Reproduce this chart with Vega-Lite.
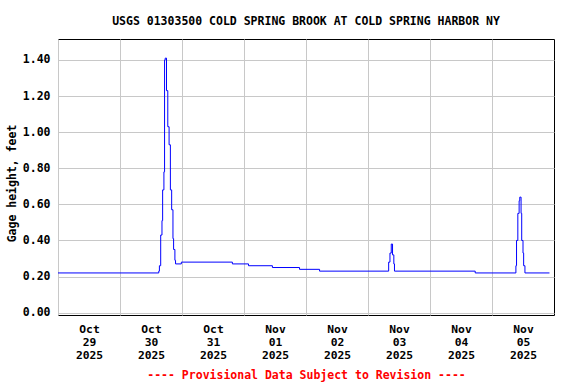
{
  "$schema": "https://vega.github.io/schema/vega-lite/v6.json",
  "width": 496,
  "height": 276,
  "autosize": {"type": "none"},
  "padding": {"left": 58, "top": 39, "right": 22, "bottom": 69},
  "background": "white",
  "title": {
    "text": "USGS 01303500 COLD SPRING BROOK AT COLD SPRING HARBOR NY",
    "font": "DejaVu Sans Mono",
    "fontSize": 11.5,
    "fontWeight": "bold",
    "color": "black",
    "anchor": "middle",
    "frame": "group",
    "offset": 12
  },
  "config": {"view": {"stroke": "black", "strokeWidth": 1}},
  "data": {
    "values": [
      {"t": "2025-10-29T00:00", "v": 0.22},
      {"t": "2025-10-30T15:00", "v": 0.23},
      {"t": "2025-10-30T15:15", "v": 0.26},
      {"t": "2025-10-30T15:45", "v": 0.43},
      {"t": "2025-10-30T16:15", "v": 0.51},
      {"t": "2025-10-30T16:30", "v": 0.68},
      {"t": "2025-10-30T17:00", "v": 0.78},
      {"t": "2025-10-30T17:15", "v": 1.40},
      {"t": "2025-10-30T17:30", "v": 1.41},
      {"t": "2025-10-30T18:00", "v": 1.23},
      {"t": "2025-10-30T18:30", "v": 1.03},
      {"t": "2025-10-30T19:00", "v": 0.93},
      {"t": "2025-10-30T19:30", "v": 0.68},
      {"t": "2025-10-30T20:00", "v": 0.57},
      {"t": "2025-10-30T20:30", "v": 0.41},
      {"t": "2025-10-30T20:45", "v": 0.35},
      {"t": "2025-10-30T21:15", "v": 0.29},
      {"t": "2025-10-30T21:30", "v": 0.27},
      {"t": "2025-10-30T23:45", "v": 0.28},
      {"t": "2025-10-31T19:30", "v": 0.27},
      {"t": "2025-11-01T01:45", "v": 0.26},
      {"t": "2025-11-01T11:00", "v": 0.25},
      {"t": "2025-11-01T21:30", "v": 0.24},
      {"t": "2025-11-02T05:15", "v": 0.23},
      {"t": "2025-11-03T08:00", "v": 0.28},
      {"t": "2025-11-03T08:30", "v": 0.33},
      {"t": "2025-11-03T09:00", "v": 0.38},
      {"t": "2025-11-03T09:30", "v": 0.32},
      {"t": "2025-11-03T10:00", "v": 0.27},
      {"t": "2025-11-03T10:15", "v": 0.23},
      {"t": "2025-11-04T17:30", "v": 0.22},
      {"t": "2025-11-05T09:15", "v": 0.26},
      {"t": "2025-11-05T09:30", "v": 0.40},
      {"t": "2025-11-05T10:00", "v": 0.55},
      {"t": "2025-11-05T10:30", "v": 0.62},
      {"t": "2025-11-05T10:45", "v": 0.64},
      {"t": "2025-11-05T11:15", "v": 0.55},
      {"t": "2025-11-05T11:30", "v": 0.40},
      {"t": "2025-11-05T12:00", "v": 0.33},
      {"t": "2025-11-05T12:15", "v": 0.26},
      {"t": "2025-11-05T12:45", "v": 0.22},
      {"t": "2025-11-05T22:15", "v": 0.22}
    ]
  },
  "mark": {"type": "line", "interpolate": "step-after", "color": "#0000ff", "strokeWidth": 1},
  "encoding": {
    "x": {
      "field": "t",
      "type": "temporal",
      "scale": {"domain": [{"year": 2025, "month": 10, "date": 29}, {"year": 2025, "month": 11, "date": 6}]},
      "axis": {
        "values": [
          {"year": 2025, "month": 10, "date": 29},
          {"year": 2025, "month": 10, "date": 30},
          {"year": 2025, "month": 10, "date": 31},
          {"year": 2025, "month": 11, "date": 1},
          {"year": 2025, "month": 11, "date": 2},
          {"year": 2025, "month": 11, "date": 3},
          {"year": 2025, "month": 11, "date": 4},
          {"year": 2025, "month": 11, "date": 5}
        ],
        "grid": true,
        "gridColor": "#c8c8c8",
        "gridOpacity": 1,
        "ticks": false,
        "domain": false,
        "labelExpr": "[timeFormat(datum.value, '%b'), timeFormat(datum.value, '%d'), timeFormat(datum.value, '%Y')]",
        "labelOffset": 31,
        "labelFont": "DejaVu Sans Mono",
        "labelFontWeight": "bold",
        "labelFontSize": 11.3,
        "labelColor": "black",
        "labelPadding": 8,
        "labelLineHeight": 13,
        "labelFlush": false,
        "labelOverlap": false,
        "labelBound": false,
        "title": "---- Provisional Data Subject to Revision ----",
        "titleColor": "#ff0000",
        "titleFont": "DejaVu Sans Mono",
        "titleFontSize": 11.5,
        "titleFontWeight": "bold",
        "titleY": 60,
        "titleBaseline": "middle"
      }
    },
    "y": {
      "field": "v",
      "type": "quantitative",
      "scale": {"domain": [-0.013, 1.516], "nice": false, "zero": false},
      "axis": {
        "values": [0, 0.2, 0.4, 0.6, 0.8, 1.0, 1.2, 1.4],
        "format": ".2f",
        "grid": true,
        "gridColor": "#c8c8c8",
        "gridOpacity": 1,
        "ticks": false,
        "domain": false,
        "labelFont": "DejaVu Sans Mono",
        "labelFontWeight": "bold",
        "labelFontSize": 11.5,
        "labelColor": "black",
        "labelPadding": 8,
        "title": "Gage height, feet",
        "titleFont": "DejaVu Sans Mono",
        "titleFontWeight": "bold",
        "titleFontSize": 11.5,
        "titleColor": "black",
        "titleAngle": 270,
        "titleAlign": "center",
        "titleBaseline": "middle",
        "titleX": -46,
        "titleY": 144
      }
    }
  }
}
